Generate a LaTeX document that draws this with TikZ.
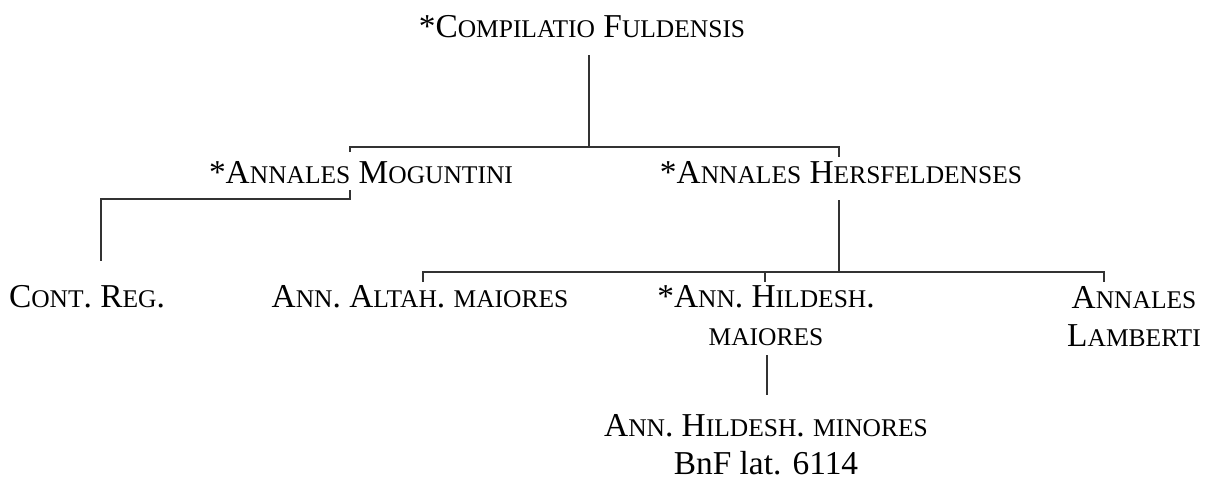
\documentclass[tikz,border=0pt]{standalone}
\usepackage{fontspec}
\setmainfont{Liberation Serif}
\usetikzlibrary{positioning, calc}
\definecolor{StemaLine}{HTML}{333333}
% fake small capitals, as in the printed stemma
\newcommand{\smc}[1]{{\fontsize{14.5}{14.5}\selectfont\MakeUppercase{#1}}}

\begin{document}
\begin{tikzpicture}[x=0.2mm, y=-0.2mm,
    witness/.style={inner sep=0pt, anchor=base, align=center, font=\fontsize{19}{21.6}\selectfont},
    stem/.style={draw=StemaLine, line width=0.7pt}]
  \useasboundingbox (0,0) rectangle (1206,481);

  % Witnesses
  \node[witness] (comp) at (582,37) {*C\smc{ompilatio} F\smc{uldensis}};
  \node[witness] (mog) at (361,183) {*A\smc{nnales} M\smc{oguntini}};
  \node[witness] (hers) at (841,183) {*A\smc{nnales} H\smc{ersfeldenses}};
  \node[witness] (cont) at (87,307) {C\smc{ont}. R\smc{eg}.};
  \node[witness] (altah) at (420,307) {A\smc{nn}. A\smc{ltah}. \smc{maiores}};
  \node[witness] (hild) at (766,345) {*A\smc{nn}. H\smc{ildesh}.\\ \smc{maiores}};
  \node[witness] (lamb) at (1134,346) {A\smc{nnales}\\ L\smc{amberti}};
  \node[witness] (minor) at (766,474) {A\smc{nn}. H\smc{ildesh}. \smc{minores}\\ BnF lat. 6114};

  % Compilatio to the two lost annals
  \draw[stem] ($(comp.base)+(7,18)$) -- ++(0,92) coordinate (fork1);
  \draw[stem] ($(mog.base)+(-11,-31)$) |- (fork1) -| ($(hers.base)+(-2,-26)$);

  % Moguntini branch
  \draw[stem] ($(mog.base)+(-11,7)$) -- ++(0,9) -| ($(cont.base)+(14,-46)$);

  % Hersfeldenses branch
  \draw[stem] ($(hers.base)+(-2,17)$) -- ++(0,72) coordinate (fork3);
  \draw[stem] ($(altah.base)+(3,-25)$) |- (fork3) -| ($(lamb.base)+(-30,-64)$);
  \draw[stem] ($(hild.base)+(-1,-63)$) -- ++(0,-10);
  \draw[stem] ($(hild.base)+(1,10)$) -- ($(minor.base)+(1,-79)$);
\end{tikzpicture}
\end{document}
